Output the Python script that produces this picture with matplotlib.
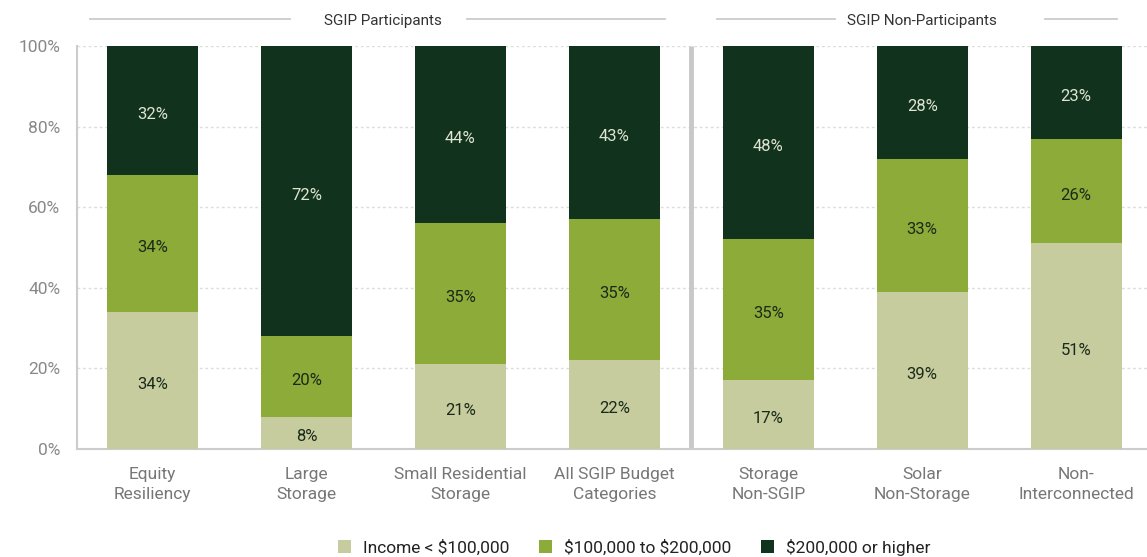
import matplotlib
matplotlib.use("Agg")
import matplotlib.pyplot as plt
import numpy as np

categories = ["Equity\nResiliency", "Large\nStorage", "Small Residential\nStorage",
              "All SGIP Budget\nCategories", "Storage\nNon-SGIP", "Solar\nNon-Storage",
              "Non-\nInterconnected"]
low = [34, 8, 21, 22, 17, 39, 51]
mid = [34, 20, 35, 35, 35, 33, 26]
high = [32, 72, 44, 43, 48, 28, 23]
series_names = ["Income < \\$100,000", "\\$100,000 to \\$200,000", "\\$200,000 or higher"]
group_names = ["SGIP Participants", "SGIP Non-Participants"]

plt.rcParams['font.family'] = ['Roboto', 'DejaVu Sans']

c_low = "#c6cc9e"
c_mid = "#8dab38"
c_high = "#11321c"

fig = plt.figure(figsize=(11.47, 5.57), dpi=100)
ax = fig.add_axes([77/1147, 1-449/557, 1-77/1147, (449-46)/557])

x = np.arange(len(categories))
w = 0.59
ax.bar(x, low, w, color=c_low, label=series_names[0], zorder=3)
ax.bar(x, mid, w, bottom=low, color=c_mid, label=series_names[1], zorder=3)
b2 = np.array(low) + np.array(mid)
ax.bar(x, high, w, bottom=b2, color=c_high, label=series_names[2], zorder=3)

for i in range(len(x)):
    ax.text(x[i], low[i]/2 - 1, f"{low[i]}%", ha="center", va="center", fontsize=12, color="#1a2a1a", zorder=4)
    ax.text(x[i], low[i] + mid[i]/2 - 1, f"{mid[i]}%", ha="center", va="center", fontsize=12, color="#1a2a1a", zorder=4)
    ax.text(x[i], b2[i] + high[i]/2 - 1, f"{high[i]}%", ha="center", va="center", fontsize=12, color="#dfe5d2", zorder=4)

ax.set_xlim(-0.49, 6.46)
ax.set_ylim(0, 100)
ax.set_yticks([0, 20, 40, 60, 80, 100])
ax.set_yticklabels([f"{v}%" for v in [0, 20, 40, 60, 80, 100]])
ax.set_xticks(x)
ax.set_xticklabels(categories, fontsize=12.5, color="#777777", linespacing=1.45)
ax.tick_params(axis="y", labelsize=12.5, labelcolor="#888888", length=0, pad=12)
ax.tick_params(axis="x", length=0, pad=13)
ax.grid(axis="y", linestyle=(0, (2, 2)), color="#dddddd", linewidth=1, zorder=0)
for s in ["top", "right"]:
    ax.spines[s].set_visible(False)
ax.spines["left"].set_color("#cccccc")
ax.spines["bottom"].set_color("#cccccc")
ax.spines["left"].set_linewidth(1.5)
ax.spines["bottom"].set_linewidth(1.5)

ax.plot([3.5, 3.5], [0, 100], color="#c8c8c8", linewidth=3.5, zorder=2, solid_capstyle="butt")

# group headers
def px2x(p):
    return -0.49 + (p - 77) / (1147 - 77) * (6.46 + 0.49)
yhead = 106.2
ax.text(1.5, yhead, group_names[0], ha="center", va="center", fontsize=11, color="#333333", clip_on=False)
ax.text(5.0, yhead, group_names[1], ha="center", va="center", fontsize=11, color="#333333", clip_on=False)
for a, b in [(90, 290), (467, 665), (717, 835), (1045, 1117)]:
    ax.plot([px2x(a), px2x(b)], [yhead + 0.5, yhead + 0.5], color="#cccccc", linewidth=1.3, clip_on=False)

fig.legend(loc="lower center", bbox_to_anchor=(0.553, -0.026), ncol=3, frameon=False,
           fontsize=12.5, handlelength=0.75, handleheight=0.75, handletextpad=0.7, columnspacing=1.7,
           labelcolor="#222222")

fig.savefig("out.png", dpi=100)
